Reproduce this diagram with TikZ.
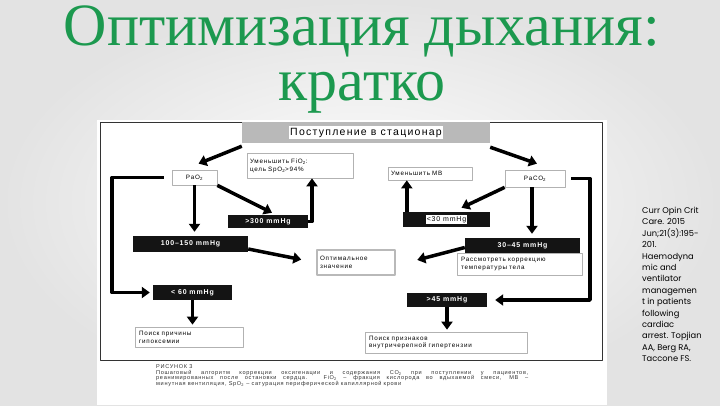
\documentclass[tikz,border=0pt]{standalone}
\usepackage{fontspec}
\setmainfont{Liberation Serif}
\newfontfamily\arialsp[LetterSpace=12]{Liberation Sans}
\newfontfamily\gothic{Poppins}
\usetikzlibrary{arrows.meta}
\begin{document}
\begin{tikzpicture}[x=1pt,y=-1pt,line join=round,
    box/.style={draw=gray!60,line width=.7pt,fill=white,inner sep=0pt,
      font=\arialsp\fontsize{6.3}{7.8}\selectfont,align=left},
    optbox/.style={box,draw=gray!55,line width=2pt},
    dark/.style={fill=black!92,text=white,inner sep=0pt,
      font=\arialsp\bfseries\fontsize{7}{7}\selectfont},
    fat/.style={line width=3.5pt,-{Triangle[width=11pt,length=8pt]}},
    captext/.style={font=\arialsp\fontsize{5.6}{6}\selectfont,inner sep=0pt,text=black!80}]
    \definecolor{titlegreen}{rgb}{0.11,0.6,0.31}
    \useasboundingbox (0,0) rectangle (720,405);
    \shade[inner color=white,outer color=gray!22] (0,0) rectangle (720,405);
    \fill[white] (97,120) rectangle (607,405);
    \draw[line width=1pt,black!80] (100,122) rectangle (602,360);
    % title
    \node[anchor=base,text=titlegreen,font=\fontsize{60}{55}\selectfont,inner sep=0pt,align=center] (title) at (362,100)
      {Оптимизация дыхания:\\кратко};
    % boxes
    \node[fill=gray!55,minimum width=248,minimum height=21,inner sep=0pt,
      font=\arialsp\fontsize{10.5}{11}\selectfont] (adm) at (366,132.5)
      {\setlength\fboxsep{1.5pt}\colorbox{white}{Поступление в стационар}};
    \node[box,minimum width=45,minimum height=15,align=center] (pao2) at (194.5,177.5) {PaO\textsubscript{2}};
    \node[box,text width=100,minimum height=25,inner xsep=3pt] (fio2) at (300,165.5)
      {Уменьшить FiO\textsubscript{2}:\\цель SpO\textsubscript{2}>94\%};
    \node[dark,minimum width=80,minimum height=13] (gt300) at (268,221.5) {>300 mmHg};
    \node[dark,minimum width=115,minimum height=16] (r100) at (190.5,244) {100–150 mmHg};
    \node[optbox,text width=72,minimum height=25,inner xsep=3pt] (opt) at (356,262.5)
      {Оптимальное\\значение};
    \node[dark,minimum width=79,minimum height=15] (lt60) at (192.5,292.5) {< 60 mmHg};
    \node[box,text width=100,minimum height=20,inner xsep=4pt] (hypox) at (189,337)
      {Поиск причины\\гипоксемии};
    \node[box,minimum width=60,minimum height=17] (paco2) at (535,178.5) {PaCO\textsubscript{2}};
    \node[box,text width=78,minimum height=13,inner xsep=3pt] (mv) at (430,173.5) {Уменьшить МВ};
    \node[dark,minimum width=87,minimum height=15] (lt30) at (446.5,219.5)
      {\setlength\fboxsep{1pt}\colorbox{white}{\textcolor{black}{\mdseries <30 mmHg}}};
    \node[dark,minimum width=115,minimum height=15] (r3045) at (522.5,245.5) {30–45 mmHg};
    \node[box,text width=117,minimum height=22,inner xsep=4pt] (temp) at (519.5,264)
      {Рассмотреть коррекцию\\температуры тела};
    \node[dark,minimum width=80,minimum height=14] (gt45) at (447,300) {>45 mmHg};
    \node[box,text width=154,minimum height=21,inner xsep=4pt] (icp) at (446,342.5)
      {Поиск признаков\\внутричерепной гипертензии};
    \coordinate (lbend) at (112,177.5);
    \coordinate (rbend) at (590,178.5);
    % arrows
    \draw[fat] ([yshift=-3pt]adm.south west) -- ([xshift=4pt,yshift=6pt]pao2.north);
    \draw[fat] ([yshift=-4pt]adm.south east) -- ([xshift=2pt,yshift=6pt]paco2.north);
    \draw[fat,shorten >=4pt] (pao2.south) -- (pao2.south |- r100.north);
    \draw[fat] (pao2.south east) -- ([xshift=4pt,yshift=2pt]gt300.north);
    \draw[fat] (gt300.east) -| ([xshift=12pt]fio2.south);
    \draw[fat,shorten >=15pt] ([yshift=-5pt]r100.east) -- (opt.west);
    \draw[fat,shorten <=8pt,shorten >=3pt] (pao2.west) -- (lbend) |- (lt60.west);
    \draw[fat,shorten >=2pt] (lt60.south) -- (lt60.south |- hypox.north);
    \draw[fat] (paco2.south west) -- ([xshift=15pt,yshift=4pt]lt30.north);
    \draw[fat] ([xshift=4pt]lt30.north west) -- ([xshift=4pt]lt30.north west |- mv.south);
    \draw[fat,shorten >=4pt] ([xshift=-3pt]paco2.south) -- ([xshift=-3pt]paco2.south |- r3045.north);
    \draw[fat,shorten >=22pt] ([yshift=-2pt]r3045.west) -- ([yshift=-3pt]opt.east);
    \draw[fat,shorten <=6pt,shorten >=8pt] (paco2.east) -- (rbend) |- (gt45.east);
    \draw[fat,shorten >=2pt] (gt45.south) -- (gt45.south |- icp.north);
    % caption
    \node[captext,anchor=base west] (fig) at (156,368) {РИСУНОК 3};
    \node[captext,anchor=base west] (cap1) at (156,374) {\makebox[372pt][s]{Пошаговый алгоритм коррекции оксигенации и содержания CO\textsubscript{2} при поступлении у пациентов,}};
    \node[captext,anchor=base west] (cap2) at (156,379.5) {\makebox[372pt][s]{реанимированных после остановки сердца. FiO\textsubscript{2} – фракция кислорода во вдыхаемой смеси, МВ –}};
    \node[captext,anchor=base west] (cap3) at (156,385) {минутная вентиляция, SpO\textsubscript{2} – сатурация периферической капиллярной крови};
    % source
    \node[anchor=north west,align=left,inner sep=0pt,font=\gothic\fontsize{8.3}{11.4}\selectfont] (src) at (642,207)
      {Curr Opin Crit\\Care. 2015\\Jun;21(3):195-\\201.\\Haemodyna\\mic and\\ventilator\\managemen\\t in patients\\following\\cardiac\\arrest. Topjian\\AA, Berg RA,\\Taccone FS.};
\end{tikzpicture}
\end{document}
